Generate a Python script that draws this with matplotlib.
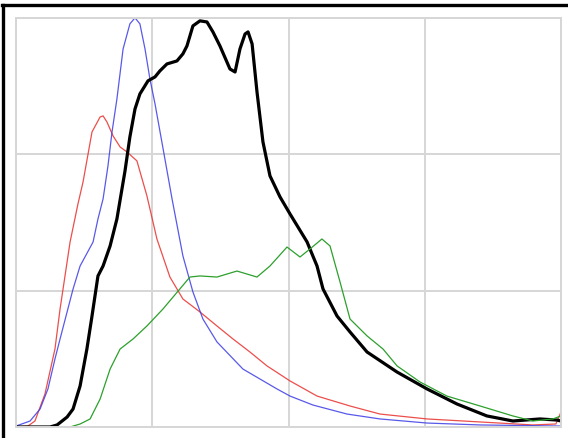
import matplotlib

matplotlib.use("Agg")

import matplotlib.pyplot as plt
from matplotlib.lines import Line2D


# histogram bins (0..256) and heights, scale where the top gridline is 300
BLUE_X = [0, 6.6, 11.3, 15.0, 18.3, 20.7, 26.8, 30.1, 36.2, 38.5, 40.9, 43.2, 45.1,
          47.4, 50.3, 53.5, 55.9, 58.2, 60.6, 62.9, 65.3, 69.1, 73.3, 78.4, 83.1,
          87.8, 94.4, 106.6, 122.6, 128.7, 139.5, 155.5, 171.0, 193.1, 218, 256]
BLUE_Y = [0.7, 4.4, 13.2, 27.9, 49.9, 64.6, 101.2, 118.1, 135.7, 152.6, 167.3, 191.5,
          216.4, 240.6, 277.3, 295.7, 300.1, 295.7, 277.3, 255.3, 237, 204, 167.3,
          125.5, 99.1, 79.2, 62.4, 42.5, 27.9, 22.7, 16.1, 9.5, 5.9, 2.9, 1.5, 0.7]

RED_X = [0, 5.6, 8.9, 13.6, 18.3, 20.7, 25.4, 29.1, 31.5, 35.7, 39.5, 40.9, 42.7,
         45.6, 48.9, 52.1, 56.8, 61.5, 66.2, 72.3, 78.4, 86.4, 94.4, 101.9, 109.9,
         117.9, 128.7, 141.4, 156.9, 171, 193.1, 218, 242.8, 253.6, 256]
RED_Y = [0, 0.7, 4.4, 24.2, 57.2, 86.6, 135.7, 163.6, 179.8, 216.4, 227.4, 228.2,
         223.8, 213.5, 205.4, 201.8, 195.2, 169.5, 137.9, 110, 93.9, 84.4, 74.1,
         64.6, 55, 44.8, 33.8, 22.7, 15.4, 9.5, 5.9, 3.7, 1.5, 2.2, 11]

GRAY_X = [0, 16, 19.3, 24, 26.8, 30.1, 33.3, 35.7, 38.5, 40.9, 44.2, 47.4, 51.2,
          53.5, 55.9, 58.2, 62, 65.3, 67.6, 70.9, 75.6, 78.4, 80.3, 83.1, 86.4,
          89.7, 92.5, 95.8, 100.5, 102.9, 105.2, 107.6, 109, 110.9, 113.2, 116,
          119.3, 124, 128.7, 136.7, 141.4, 144.2, 150.8, 156.9, 164.9, 179, 193.1,
          207.1, 221.2, 233.4, 246.1, 254.1, 256]
GRAY_Y = [0, 0, 1.5, 7.3, 13.2, 30.1, 57.2, 81.4, 110.8, 118.1, 132.8, 152.6,
          187.8, 212.8, 233.3, 244.3, 253.9, 256.8, 261.2, 266.3, 268.5, 273.7,
          279.5, 294.2, 297.9, 297.1, 289.8, 279.5, 262.6, 260.4, 277.3, 288.3,
          289.8, 281, 245.8, 209.1, 184.2, 168.8, 156.3, 135.8, 118.1, 101.3, 81.4,
          69.7, 55, 40.3, 27.9, 16.9, 8.1, 4.4, 5.9, 5.1, 4.4]

GREEN_X = [0, 25.4, 30.1, 34.8, 39.5, 44.2, 48.9, 55, 61.5, 69, 77, 81.7, 86.4,
           94.4, 103.8, 113.2, 119.3, 127.3, 133.4, 138.1, 143.7, 147.5, 152.2,
           156.9, 164.9, 172.4, 179, 189.8, 202.4, 218, 233.4, 242.8, 252.2, 256]
GREEN_Y = [0, 0, 2.2, 5.9, 20.5, 42.5, 57.2, 64.6, 74.1, 86.5, 101.3, 110, 110.8,
           110, 114.4, 110, 118.1, 132, 124.7, 130.6, 137.9, 132.8, 106.4, 79.2,
           66.8, 57.2, 44.8, 33, 22.7, 15.4, 8.1, 4.4, 5.9, 8.1]

X_GRID = [0, 64, 128, 192, 256]
Y_GRID = [0, 100, 200, 300]

W, H = 568, 439
GRID_COLOR = "#d6d6d6"


def main():
    fig = plt.figure(figsize=(W / 100, H / 100), dpi=100)
    ax = fig.add_axes([16 / W, (H - 428) / H, 545 / W, 409 / H])

    ax.plot(RED_X, RED_Y, color="#e8302c", lw=0.9, alpha=0.85)
    ax.plot(BLUE_X, BLUE_Y, color="#3c3ce6", lw=0.9, alpha=0.85)
    ax.plot(GRAY_X, GRAY_Y, color="black", lw=2.3)
    ax.plot(GREEN_X, GREEN_Y, color="#2ca02c", lw=0.9)

    ax.set_xlim(X_GRID[0], X_GRID[-1])
    ax.set_ylim(Y_GRID[0], Y_GRID[-1])
    ax.set_xticks(X_GRID)
    ax.set_yticks(Y_GRID)
    ax.tick_params(length=0, labelbottom=False, labelleft=False)
    ax.grid(color=GRID_COLOR, lw=1.4)
    ax.set_axisbelow(True)
    for spine in ax.spines.values():
        spine.set_color(GRID_COLOR)
        spine.set_linewidth(1.4)

    # black frame along the top and left edge of the image
    top = 1 - 6 / H
    fig.add_artist(Line2D([2 / W, 567 / W], [top, top], color="black", lw=2.4))
    fig.add_artist(Line2D([3 / W, 3 / W], [0, top], color="black", lw=2.4))

    fig.savefig("out.png", dpi=100)
    plt.close(fig)


if __name__ == "__main__":
    main()
